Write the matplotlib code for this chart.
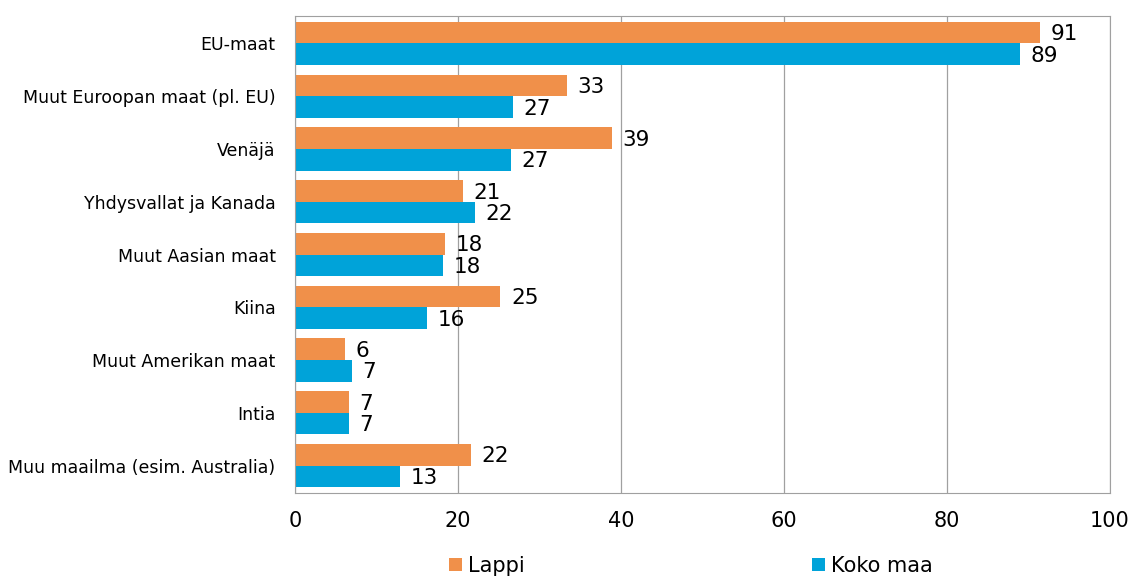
import numpy as np
import matplotlib.pyplot as plt

categories = ["EU-maat", "Muut Euroopan maat (pl. EU)", "Venäjä", "Yhdysvallat ja Kanada",
              "Muut Aasian maat", "Kiina", "Muut Amerikan maat", "Intia",
              "Muu maailma (esim. Australia)"]
lappi = [91.4, 33.4, 38.9, 20.6, 18.4, 25.2, 6.1, 6.6, 21.6]
koko_maa = [89.0, 26.7, 26.5, 22.1, 18.2, 16.2, 7.0, 6.6, 12.9]

orange = "#f0904a"
blue = "#00a3d9"

fig = plt.figure(figsize=(11.44, 5.79), dpi=100)
ax = fig.add_axes([295 / 1144, 1 - 493 / 579, 815 / 1144, 477 / 579])

y = np.arange(len(categories))
h = 0.41
b1 = ax.barh(y - h / 2, lappi, height=h, color=orange, label="Lappi")
b2 = ax.barh(y + h / 2, koko_maa, height=h, color=blue, label="Koko maa")

for bars, vals in ((b1, lappi), (b2, koko_maa)):
    for bar, v in zip(bars, vals):
        ax.text(bar.get_width() + 1.3, bar.get_y() + bar.get_height() / 2 + 0.03,
                f"{int(v + 0.5)}", va="center", ha="left", fontsize=15.5)

ax.set_xlim(0, 100)
ax.set_ylim(len(categories) - 0.48, -0.52)
ax.set_xticks(range(0, 101, 20))
ax.set_yticks(y)
ax.set_yticklabels(categories, fontsize=12.5)
ax.tick_params(axis="x", labelsize=15, length=0, pad=13)
ax.tick_params(axis="y", length=0, pad=14)
ax.grid(axis="x", color="#a0a0a0", linewidth=0.9)
ax.set_axisbelow(True)
for s in ax.spines.values():
    s.set_color("#a0a0a0")

fig.legend(handles=[b1, b2], loc="lower center", ncol=2, frameon=False, fontsize=15,
           bbox_to_anchor=(0.604, -0.027), handlelength=0.6, handleheight=0.6,
           handletextpad=0.3, columnspacing=13.8)

fig.savefig("out.png", dpi=100)
